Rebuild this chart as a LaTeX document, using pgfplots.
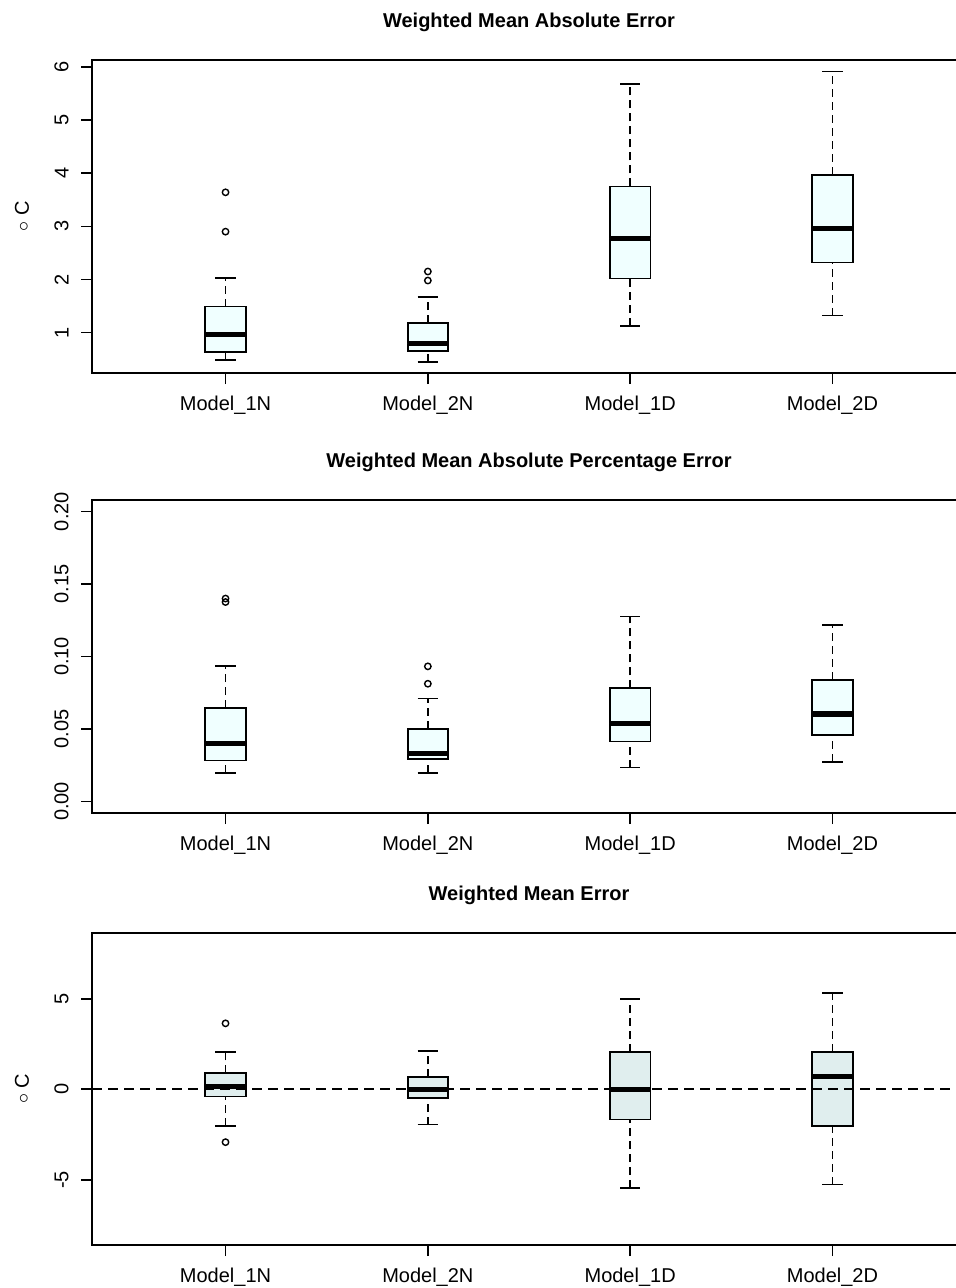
\documentclass[border=0pt]{standalone}
\usepackage{fontspec}
\setmainfont{Liberation Sans}
\usepackage{pgfplots}
\pgfplotsset{compat=1.18}
\usepgfplotslibrary{statistics}
\definecolor{azA}{HTML}{F0FFFF}
\definecolor{azB}{HTML}{E0EEEE}
\pgfplotsset{
 rbox/.style={
  scale only axis, width=437pt, height=156.5pt,
  xmin=0.34, xmax=4.66,
  xtick={1,2,3,4}, xticklabels={Model\_1N, Model\_2N, Model\_1D, Model\_2D},
  tick align=outside, tick pos=left,
  major tick length=5.5pt,
  axis line style={line width=0.8pt},
  every tick/.style={line width=0.8pt, black},
  title style={font=\bfseries, at={(0.5,1)}, anchor=center, yshift=13pt},
  xticklabel style={anchor=north, inner sep=0pt},
  xticklabel shift=6pt,
  yticklabel style={rotate=90, anchor=south, inner sep=0pt},
  yticklabel shift=6pt,
  ylabel style={at={(axis description cs:-0.0801,0.5)}, anchor=center},
  boxplot/draw direction=y,
  boxplot/box extend=0.2,
  boxplot/whisker extend=0.1,
  boxplot/every median/.style={line width=2.6pt},
  boxplot/draw/lower whisker/.code={
    \draw[dash pattern=on 4pt off 2.5pt, line width=0.8pt] (boxplot box cs:\pgfplotsboxplotvalue{lower whisker},0.5) -- (boxplot box cs:\pgfplotsboxplotvalue{lower quartile},0.5);
    \draw[line width=0.8pt] (boxplot whisker cs:\pgfplotsboxplotvalue{lower whisker},0) -- (boxplot whisker cs:\pgfplotsboxplotvalue{lower whisker},1);
  },
  boxplot/draw/upper whisker/.code={
    \draw[dash pattern=on 4pt off 2.5pt, line width=0.8pt] (boxplot box cs:\pgfplotsboxplotvalue{upper quartile},0.5) -- (boxplot box cs:\pgfplotsboxplotvalue{upper whisker},0.5);
    \draw[line width=0.8pt] (boxplot whisker cs:\pgfplotsboxplotvalue{upper whisker},0) -- (boxplot whisker cs:\pgfplotsboxplotvalue{upper whisker},1);
  },
 },
 rplot/.style={draw=black, line width=0.9pt, mark=o, mark size=1.6pt, mark options={solid, line width=0.7pt}},
}
\begin{document}
\begin{tikzpicture}
% Panel 1
\begin{axis}[rbox, at={(46pt,-186.5pt)}, anchor=south west,
  ymin=0.24, ymax=6.13, ytick={1,2,3,4,5,6}, yticklabels={1,2,3,4,5,6},
  title={Weighted Mean Absolute Error}, ylabel={\ensuremath{\circ}\;C}]
\addplot[rplot, fill=azA, boxplot prepared={draw position=1, median=0.96, upper quartile=1.49, lower quartile=0.64, upper whisker=2.03, lower whisker=0.48}] table[row sep=\\, y index=0] {data\\ 3.64\\ 2.90\\};
\addplot[rplot, fill=azA, boxplot prepared={draw position=2, median=0.79, upper quartile=1.18, lower quartile=0.66, upper whisker=1.67, lower whisker=0.45}] table[row sep=\\, y index=0] {data\\ 2.15\\ 1.98\\};
\addplot[rplot, fill=azA, boxplot prepared={draw position=3, median=2.77, upper quartile=3.75, lower quartile=2.02, upper whisker=5.68, lower whisker=1.13}] coordinates {};
\addplot[rplot, fill=azA, boxplot prepared={draw position=4, median=2.96, upper quartile=3.97, lower quartile=2.32, upper whisker=5.91, lower whisker=1.32}] coordinates {};
\end{axis}
% Panel 2
\begin{axis}[rbox, at={(46pt,-406.5pt)}, anchor=south west,
  ymin=-0.008, ymax=0.208, ytick={0,0.05,0.1,0.15,0.2}, yticklabels={0.00,0.05,0.10,0.15,0.20},
  title={Weighted Mean Absolute Percentage Error}]
\addplot[rplot, fill=azA, boxplot prepared={draw position=1, median=0.0402, upper quartile=0.0643, lower quartile=0.0282, upper whisker=0.0934, lower whisker=0.0195}] table[row sep=\\, y index=0] {data\\ 0.1400\\ 0.1376\\};
\addplot[rplot, fill=azA, boxplot prepared={draw position=2, median=0.0328, upper quartile=0.0502, lower quartile=0.0294, upper whisker=0.0711, lower whisker=0.0197}] table[row sep=\\, y index=0] {data\\ 0.0932\\ 0.0812\\};
\addplot[rplot, fill=azA, boxplot prepared={draw position=3, median=0.0535, upper quartile=0.0780, lower quartile=0.0413, upper whisker=0.1276, lower whisker=0.0234}] coordinates {};
\addplot[rplot, fill=azA, boxplot prepared={draw position=4, median=0.0603, upper quartile=0.0839, lower quartile=0.0461, upper whisker=0.1218, lower whisker=0.0273}] coordinates {};
\end{axis}
% Panel 3
\begin{axis}[rbox, at={(46pt,-622.5pt)}, anchor=south west, height=156pt,
  ymin=-8.6, ymax=8.63, ytick={-5,0,5}, yticklabels={-5,0,5},
  title={Weighted Mean Error}, ylabel={\ensuremath{\circ}\;C}]
\addplot[rplot, fill=azB, boxplot prepared={draw position=1, median=0.15, upper quartile=0.88, lower quartile=-0.40, upper whisker=2.06, lower whisker=-2.02}] table[row sep=\\, y index=0] {data\\ 3.64\\ -2.92\\};
\addplot[rplot, fill=azB, boxplot prepared={draw position=2, median=0.0, upper quartile=0.66, lower quartile=-0.50, upper whisker=2.13, lower whisker=-1.95}] coordinates {};
\addplot[rplot, fill=azB, boxplot prepared={draw position=3, median=0.0, upper quartile=2.08, lower quartile=-1.67, upper whisker=5.00, lower whisker=-5.46}] coordinates {};
\addplot[rplot, fill=azB, boxplot prepared={draw position=4, median=0.70, upper quartile=2.06, lower quartile=-2.04, upper whisker=5.30, lower whisker=-5.26}] coordinates {};
\addplot[black, line width=0.9pt, dash pattern=on 5pt off 3pt, mark=none] coordinates {(0.34,0) (4.66,0)};
\end{axis}
\pgfresetboundingbox
\path[use as bounding box] (0,0) rectangle (477.5pt,-644pt);
\end{tikzpicture}
\end{document}
